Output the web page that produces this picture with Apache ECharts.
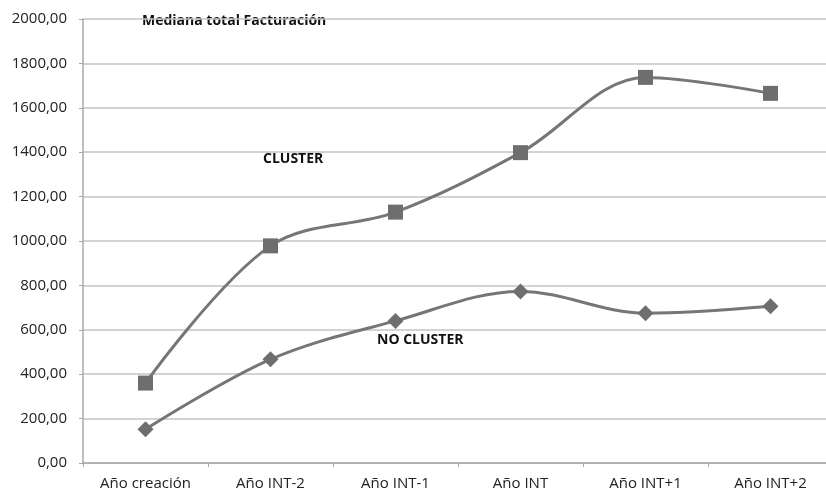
<!DOCTYPE html>
<html><head><meta charset="utf-8">
<script src="https://cdn.jsdelivr.net/npm/echarts@6/dist/echarts.min.js"></script>
<style>html,body{margin:0;padding:0;background:#fff}#c{width:826px;height:488px}</style>
</head><body><div id="c"></div>
<script>
const categories = ['Año creación','Año INT-2','Año INT-1','Año INT','Año INT+1','Año INT+2'];
const clusterValues = [360, 978, 1130, 1398, 1737, 1665];
const noClusterValues = [152, 467, 640, 773, 675, 706];
const yTicks = {min: 0, max: 2000, interval: 200};
const titleText = 'Mediana total Facturación';
const clusterLabel = 'CLUSTER';
const noClusterLabel = 'NO CLUSTER';

const chart = echarts.init(document.getElementById('c'));
const lineColor = '#767676';
chart.setOption({
  animation: false,
  textStyle: {fontFamily: 'Open Sans'},
  grid: {left: 83, right: -7, top: 19, bottom: 25, containLabel: false, outerBoundsMode: 'none'},
  xAxis: {
    type: 'category', data: categories, boundaryGap: true,
    axisLine: {lineStyle: {color: '#a8a8a8', width: 1.5}},
    axisTick: {show: true, length: 4, lineStyle: {color: '#a8a8a8'}},
    axisLabel: {color: '#222', fontSize: 15, margin: 13, fontFamily: 'Open Sans', hideOverlap: false}
  },
  yAxis: {
    type: 'value', min: yTicks.min, max: yTicks.max, interval: yTicks.interval,
    axisLine: {show: true, lineStyle: {color: '#a8a8a8', width: 1.5}},
    axisTick: {show: true, length: 4, lineStyle: {color: '#a8a8a8'}},
    splitLine: {lineStyle: {color: '#c4c4c4', width: 1.5}},
    axisLabel: {color: '#222', fontSize: 15, margin: 16, fontFamily: 'Open Sans',
      formatter: v => v.toFixed(2).replace('.', ',')}
  },
  series: [
    {name: clusterLabel, type: 'line', data: clusterValues, smooth: 0.35,
     symbol: 'rect', symbolSize: 15,
     lineStyle: {color: lineColor, width: 3}, itemStyle: {color: '#6e6e6e'}},
    {name: noClusterLabel, type: 'line', data: noClusterValues, smooth: 0.35,
     symbol: 'diamond', symbolSize: 16,
     lineStyle: {color: lineColor, width: 3}, itemStyle: {color: '#6e6e6e'}}
  ],
  graphic: [
    {type: 'text', left: 142, top: 14, style: {text: titleText, font: 'bold 14px "Open Sans"', fill: '#111'}},
    {type: 'text', left: 263, top: 152, style: {text: clusterLabel, font: 'bold 14px "Open Sans"', fill: '#111'}},
    {type: 'text', left: 377, top: 333, style: {text: noClusterLabel, font: 'bold 14px "Open Sans"', fill: '#111'}}
  ]
});
</script></body></html>
